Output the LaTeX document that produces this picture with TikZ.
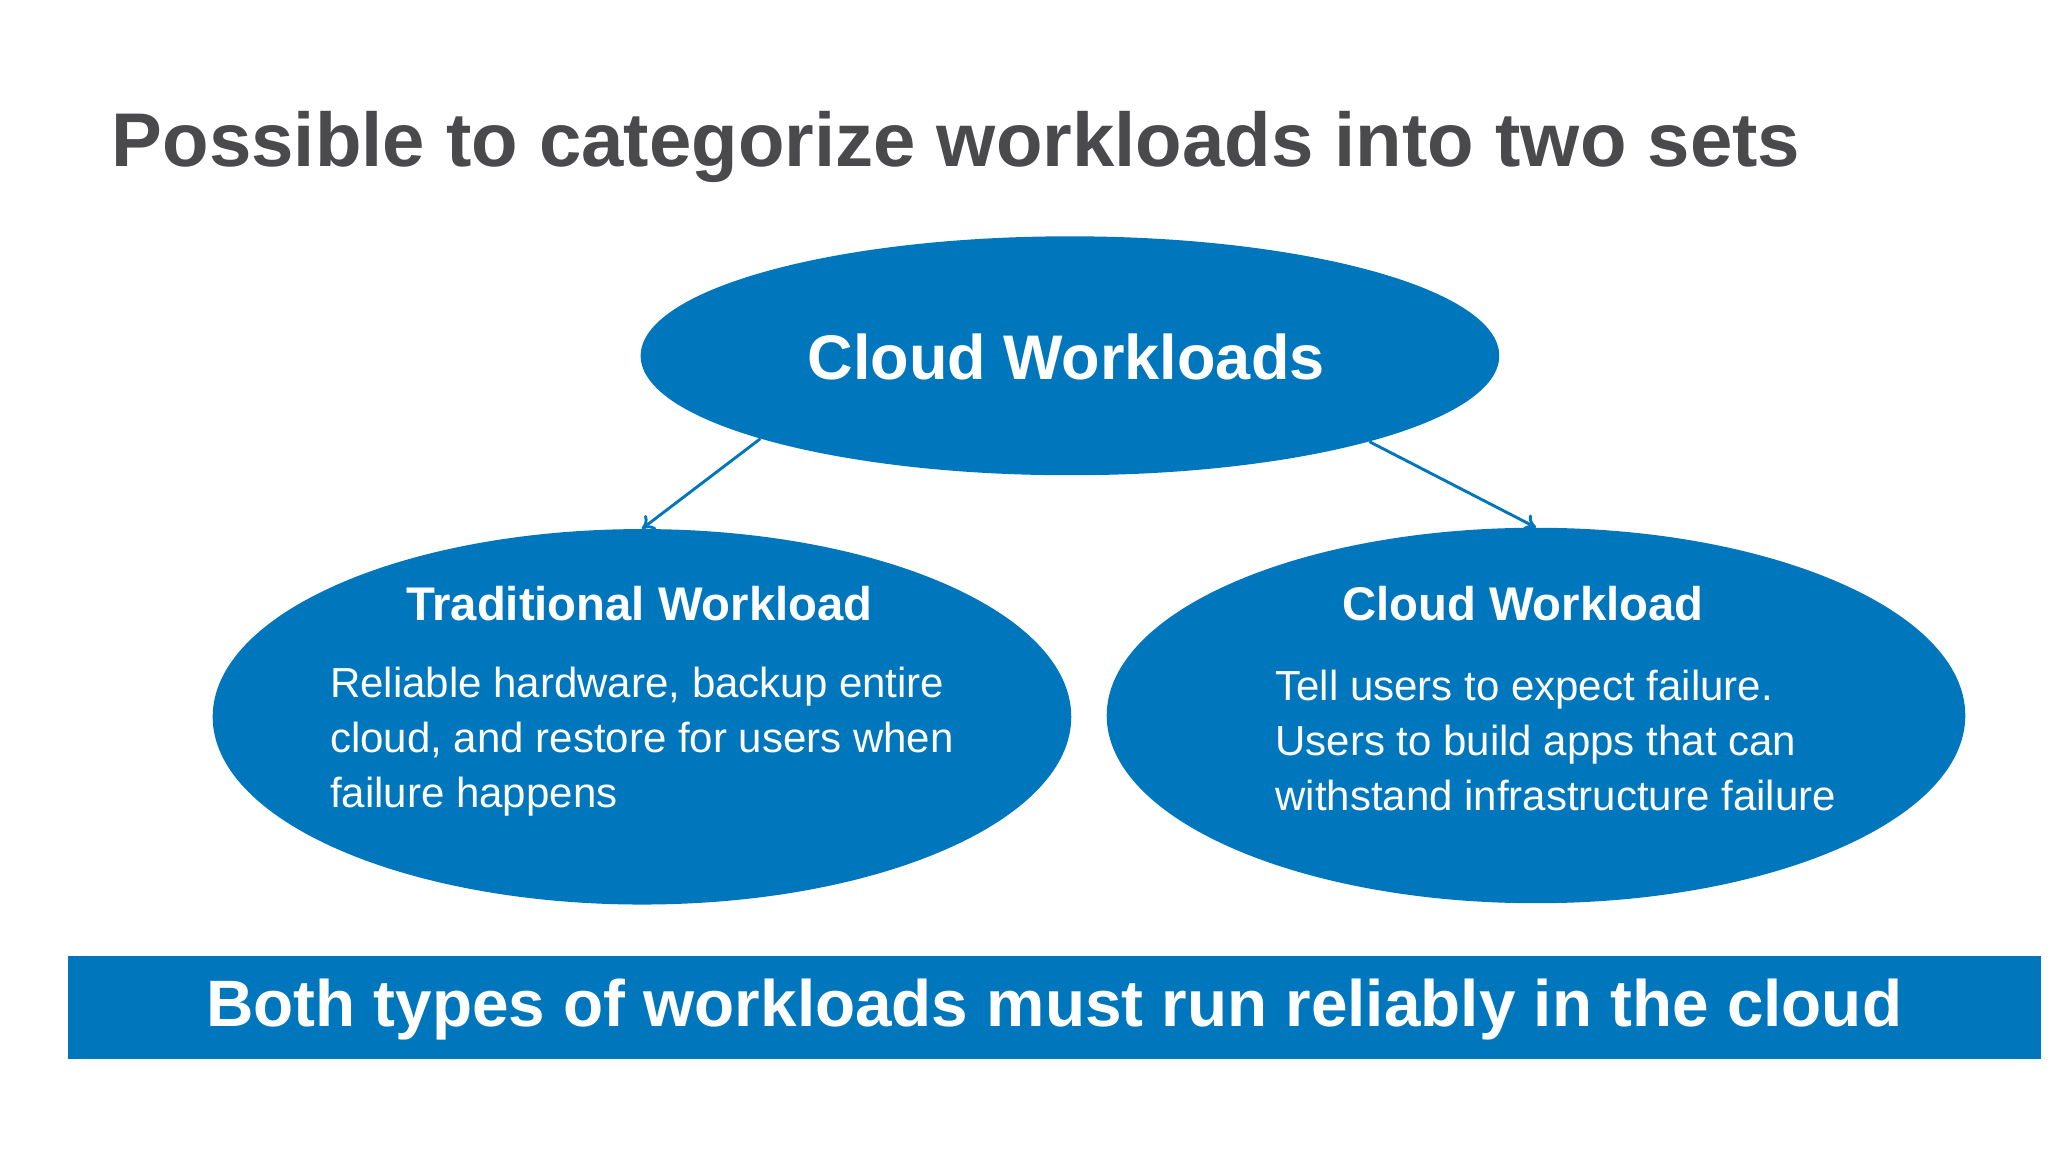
\documentclass[tikz,border=0pt]{standalone}
\usepackage{fontspec}
\setmainfont{Liberation Sans}
\usetikzlibrary{shapes.geometric,arrows.meta}
\definecolor{cblue}{HTML}{0077BD}
\definecolor{tgray}{HTML}{4A4A4C}
\begin{document}
\begin{tikzpicture}[x=1pt,y=-1pt,
  ell/.style={ellipse,fill=cblue,draw=none,minimum width=654pt,inner sep=0pt},
  wt/.style={text=white,font=\bfseries},
  body/.style={text=white,align=left,anchor=west,font=\fontsize{32}{42}\selectfont},
  arr/.style={draw=cblue,line width=2.2pt,-{To[length=9pt,width=14pt]}}]
\useasboundingbox (0,0) rectangle (1560,878);
\fill[white] (0,0) rectangle (1560,878);
\node[anchor=base west,text=tgray,font=\fontsize{58}{60}\selectfont\bfseries,inner sep=0pt] (title) at (85,127) {Possible to categorize workloads into two sets};
\node[ell,minimum height=182pt] (top) at (815,271) {};
\node[ell,minimum height=286pt] (left) at (489,546) {};
\node[ell,minimum height=286pt] (right) at (1170,545) {};
\node[wt,font=\fontsize{48}{50}\selectfont\bfseries] (toplbl) at (812,272) {Cloud Workloads};
\node[wt,font=\fontsize{36}{40}\selectfont\bfseries] (ltitle) at (487,460) {Traditional Workload};
\node[wt,font=\fontsize{36}{40}\selectfont\bfseries] (rtitle) at (1160,460) {Cloud Workload};
\node[body] (lbody) at (248,565) {Reliable hardware, backup entire\\cloud, and restore for users when\\failure happens};
\node[body] (rbody) at (968,564) {Tell users to expect failure.\\Users to build apps that can\\withstand infrastructure failure};
\draw[arr] (top.195.8) -- (left.90);
\draw[arr] (top.344.2) -- (right.90);
\node[fill=cblue,minimum width=1503pt,minimum height=79pt,inner sep=0pt] (banner) at (803.5,767.5) {};
\node[wt,font=\fontsize{50}{52}\selectfont\bfseries] (bantext) at (803,769) {Both types of workloads must run reliably in the cloud};
\end{tikzpicture}
\end{document}
